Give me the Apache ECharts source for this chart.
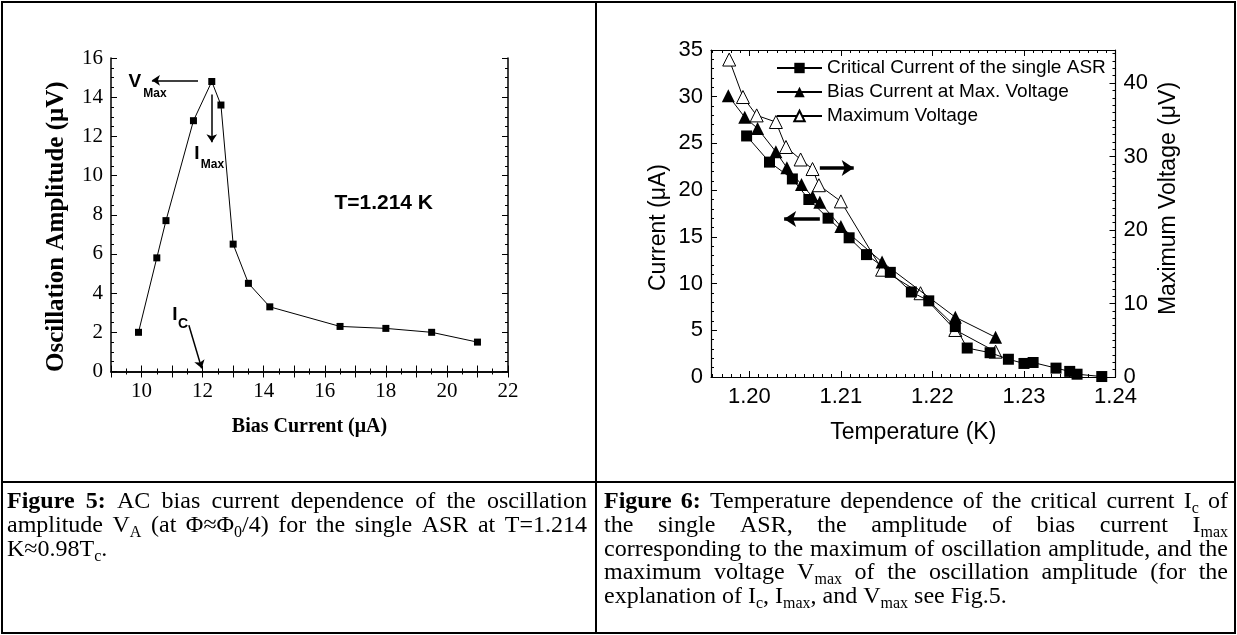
<!DOCTYPE html>
<html><head><meta charset="utf-8">
<script src="https://cdn.jsdelivr.net/npm/echarts@6/dist/echarts.min.js"></script>
<style>html,body{margin:0;padding:0;background:#fff}#c{width:1237px;height:635px}</style>
</head><body><div id="c"></div>
<script>
// ---------- Figure 5 data ----------
const fig5Bias = [9.9, 10.5, 10.8, 11.7, 12.3, 12.6, 13.0, 13.5, 14.2, 16.5, 18.0, 19.5, 21.0];
const fig5Amp  = [2.0, 5.8, 7.7, 12.8, 14.8, 13.6, 6.5, 4.5, 3.3, 2.3, 2.2, 2.0, 1.5];
// ---------- Figure 6 data ----------
const icTemp    = [1.1997, 1.2022, 1.2047, 1.2065, 1.2086, 1.2109, 1.2128, 1.2154, 1.2177, 1.2196, 1.2225, 1.2238, 1.2263, 1.2283, 1.2300, 1.2310, 1.2335, 1.2350, 1.2358, 1.2385];
const icCurrent = [25.8, 23.0, 21.2, 19.0, 17.0, 14.9, 13.1, 11.2, 9.1, 8.15, 5.4, 3.1, 2.6, 1.9, 1.45, 1.55, 0.95, 0.6, 0.3, 0.05];
const imaxTemp    = [1.1977, 1.1995, 1.2009, 1.2029, 1.2041, 1.2057, 1.2069, 1.2077, 1.2100, 1.2145, 1.2225, 1.2269];
const imaxCurrent = [30.1, 27.8, 26.6, 24.1, 22.4, 20.6, 19.3, 18.7, 16.1, 12.3, 6.4, 4.25];
const vmaxTemp    = [1.1978, 1.1993, 1.2008, 1.2029, 1.2040, 1.2056, 1.2069, 1.2076, 1.2100, 1.2145, 1.2187, 1.2225, 1.2269];
const vmaxVoltage = [43.2, 38.1, 35.6, 34.7, 31.3, 29.6, 28.3, 26.1, 23.9, 14.6, 11.4, 6.4, 3.45];
const seriesNames = ['Critical Current of the single ASR', 'Bias Current at Max. Voltage', 'Maximum Voltage'];
const fig6XLabels = [1.20, 1.21, 1.22, 1.23, 1.24];
// ---------- captions ----------
const cap5 = [
  '*Figure *5: AC bias current dependence of the oscillation',
  'amplitude V_{A} (at Φ≈Φ_{0}/4) for the single ASR at T=1.214',
  'K≈0.98T_{c}.'
];
const cap6 = [
  '*Figure *6: Temperature dependence of the critical current I_{c} of',
  'the single ASR, the amplitude of bias current I_{max}',
  'corresponding to the maximum of oscillation amplitude, and the',
  'maximum voltage V_{max} of the oscillation amplitude (for the',
  'explanation of I_{c}, I_{max}, and V_{max} see Fig.5.'
];

const zip = (a, b) => a.map((v, i) => [v, b[i]]);
const fig6Minor = [];
for (let k = 1196; k <= 1240; k++) fig6Minor.push(k / 1000);

const SERIF = '"Liberation Serif", "Times New Roman", serif';
const SANS = '"Liberation Sans", Arial, sans-serif';

// ---------- caption layout ----------
const mctx = document.createElement('canvas').getContext('2d');
const fontStr = (bold, size) => (bold ? 'bold ' : '') + size + 'px ' + SERIF;
function parseWord(w) {
  let bold = false;
  if (w.startsWith('*')) { bold = true; w = w.slice(1); }
  const segs = []; const re = /_\{([^}]*)\}/g; let last = 0, m;
  while ((m = re.exec(w))) {
    if (m.index > last) segs.push({ t: w.slice(last, m.index), sub: false });
    segs.push({ t: m[1], sub: true }); last = re.lastIndex;
  }
  if (last < w.length) segs.push({ t: w.slice(last), sub: false });
  return { bold, segs };
}
function measureLine(str, size) {
  const words = str.split(' ').map(parseWord);
  const subSize = Math.round(size * 0.65);
  words.forEach(w => { w.width = 0; w.segs.forEach(s => { mctx.font = fontStr(w.bold, s.sub ? subSize : size); s.w = mctx.measureText(s.t).width; w.width += s.w; }); });
  return words;
}
function layoutLine(str, x0, x1, y, size, justify, out) {
  const words = measureLine(str, size);
  const subSize = Math.round(size * 0.65);
  mctx.font = fontStr(false, size); const sp = mctx.measureText(' ').width;
  const total = words.reduce((a, w) => a + w.width, 0);
  const gap = justify && words.length > 1 ? (x1 - x0 - total) / (words.length - 1) : sp;
  let x = x0;
  words.forEach(w => {
    w.segs.forEach(s => {
      out.push({ type: 'text', silent: true, x: x, y: s.sub ? y + size * 0.3 : y,
        style: { text: s.t, font: fontStr(w.bold, s.sub ? subSize : size), fill: '#000', align: 'left', verticalAlign: 'middle' } });
      x += s.w;
    });
    x += gap;
  });
}
const refW = measureLine(cap6[2], 100).reduce((a, w) => a + w.width, 0) + 8 * (() => { mctx.font = fontStr(false, 100); return mctx.measureText(' ').width; })();
const capSize = Math.min(24, 100 * 620 / refW);

const graphics = [
  { type: 'rect', silent: true, shape: { x: 2, y: 2, width: 1233, height: 631 }, style: { fill: 'none', stroke: '#000', lineWidth: 2 } },
  { type: 'line', silent: true, shape: { x1: 596, y1: 2, x2: 596, y2: 633 }, style: { stroke: '#000', lineWidth: 2 } },
  { type: 'line', silent: true, shape: { x1: 2, y1: 482, x2: 1235, y2: 482 }, style: { stroke: '#000', lineWidth: 2 } }
];
const lineY = [502, 526, 549.5, 573, 596.5];
cap5.forEach((l, i) => layoutLine(l, 7, 587, lineY[i], capSize, i < cap5.length - 1, graphics));
cap6.forEach((l, i) => layoutLine(l, 604, 1228, lineY[i], capSize, i < cap6.length - 1, graphics));

// ---------- axis helpers ----------
const black = '#000';
function mirrorX(grid, min, max, interval, split, pos) {
  return { type: 'value', gridIndex: grid, position: pos, min, max, interval,
    axisLine: { show: true, lineStyle: { color: black, width: 1.5 } },
    axisTick: { show: true, inside: true, length: 6, lineStyle: { color: black } },
    minorTick: { show: true, splitNumber: split, length: 3, lineStyle: { color: black } },
    axisLabel: { show: false }, splitLine: { show: false } };
}
const ann = (x, y, text, size, font) => ({ coord: [x, y], symbol: 'rect', symbolSize: 1, itemStyle: { color: 'rgba(0,0,0,0)' },
  label: { show: true, position: 'inside', formatter: text, color: black, fontSize: size, fontWeight: 'bold', fontFamily: font || SANS } });

const option = {
  animation: false,
  backgroundColor: '#fff',
  graphic: graphics,
  grid: [
    { left: 111, top: 58, width: 397, height: 313.5 },
    { left: 711, top: 50, width: 404.5, height: 327 }
  ],
  legend: {
    left: 776, top: 58, orient: 'vertical', itemWidth: 45, itemHeight: 13, itemGap: 4, padding: 0,
    data: seriesNames, selectedMode: false,
    textStyle: { fontFamily: SANS, fontSize: 19, color: black, lineHeight: 20, padding: [0, 0, 0, 0] }
  },
  xAxis: [
    { type: 'value', gridIndex: 0, position: 'bottom', min: 9, max: 22, interval: 1,
      name: 'Bias Current (μA)', nameLocation: 'middle', nameGap: 45,
      nameTextStyle: { fontFamily: SERIF, fontWeight: 'bold', fontSize: 20, color: black },
      axisLine: { lineStyle: { color: black, width: 1.5 } },
      axisTick: { inside: true, length: 6, lineStyle: { color: black } },
      minorTick: { show: true, splitNumber: 2, length: 3, lineStyle: { color: black } },
      axisLabel: { color: black, fontFamily: SERIF, fontSize: 21, margin: 9, formatter: v => (Math.round(v) % 2 === 0 ? String(v) : '') },
      splitLine: { show: false } },
    mirrorX(0, 9, 22, 1, 2, 'top'),
    { type: 'value', gridIndex: 1, position: 'bottom', min: 1.19581, max: 1.24,
      name: 'Temperature (K)', nameLocation: 'middle', nameGap: 44,
      nameTextStyle: { fontFamily: SANS, fontSize: 23, color: black },
      axisLine: { lineStyle: { color: black, width: 1.2 } },
      axisTick: { inside: true, length: 6, customValues: fig6XLabels, lineStyle: { color: black } },
      axisLabel: { color: black, fontFamily: SANS, fontSize: 22, margin: 9, customValues: fig6XLabels, formatter: v => v.toFixed(2) },
      splitLine: { show: false } },
    { type: 'value', gridIndex: 1, position: 'bottom', min: 1.19581, max: 1.24,
      axisLine: { show: false }, axisTick: { inside: true, length: 3, customValues: fig6Minor, lineStyle: { color: black } },
      axisLabel: { show: false }, splitLine: { show: false } },
    { type: 'value', gridIndex: 1, position: 'top', min: 1.19581, max: 1.24,
      axisLine: { show: true, lineStyle: { color: black, width: 1.2 } }, axisTick: { inside: true, length: 6, customValues: fig6XLabels, lineStyle: { color: black } },
      axisLabel: { show: false }, splitLine: { show: false } },
    { type: 'value', gridIndex: 1, position: 'top', min: 1.19581, max: 1.24,
      axisLine: { show: false }, axisTick: { inside: true, length: 3, customValues: fig6Minor, lineStyle: { color: black } },
      axisLabel: { show: false }, splitLine: { show: false } }
  ],
  yAxis: [
    { type: 'value', gridIndex: 0, position: 'left', min: 0, max: 16, interval: 2,
      name: 'Oscillation Amplitude (μV)', nameLocation: 'middle', nameGap: 42,
      nameTextStyle: { fontFamily: SERIF, fontWeight: 'bold', fontSize: 25, color: black, padding: [0, 24, 0, 0] },
      axisLine: { show: true, lineStyle: { color: black, width: 1.5 } },
      axisTick: { show: true, inside: true, length: 6, lineStyle: { color: black } },
      minorTick: { show: true, splitNumber: 4, length: 3, lineStyle: { color: black } },
      axisLabel: { color: black, fontFamily: SERIF, fontSize: 21, margin: 8 },
      splitLine: { show: false } },
    mirrorX(0, 0, 16, 2, 4, 'right'),
    { type: 'value', gridIndex: 1, position: 'left', min: 0, max: 35, interval: 5,
      name: 'Current (μA)', nameLocation: 'middle', nameGap: 41,
      nameTextStyle: { fontFamily: SANS, fontSize: 23, color: black, padding: [0, 28, 0, 0] },
      axisLine: { show: true, lineStyle: { color: black, width: 1.2 } },
      axisTick: { show: true, inside: true, length: 6, lineStyle: { color: black } },
      minorTick: { show: true, splitNumber: 5, length: 3, lineStyle: { color: black } },
      axisLabel: { color: black, fontFamily: SANS, fontSize: 22, margin: 8 },
      splitLine: { show: false } },
    { type: 'value', gridIndex: 1, position: 'right', min: 0, max: 44.5, interval: 10,
      name: 'Maximum Voltage (μV)', nameLocation: 'middle', nameGap: 42,
      nameTextStyle: { fontFamily: SANS, fontSize: 23, color: black, padding: [0, 0, 0, 30] },
      axisLine: { show: true, lineStyle: { color: black, width: 1.2 } },
      axisTick: { show: true, inside: true, length: 6, lineStyle: { color: black } },
      minorTick: { show: true, splitNumber: 10, length: 3, lineStyle: { color: black } },
      axisLabel: { color: black, fontFamily: SANS, fontSize: 22, margin: 8, showMaxLabel: false },
      splitLine: { show: false } }
  ],
  series: [
    { type: 'line', xAxisIndex: 0, yAxisIndex: 0, data: zip(fig5Bias, fig5Amp),
      symbol: 'rect', symbolSize: 7, itemStyle: { color: black }, lineStyle: { color: black, width: 1 },
      markLine: { silent: true, symbol: ['none', 'arrow'], symbolSize: 8, label: { show: false },
        lineStyle: { color: black, width: 1.5, type: 'solid' },
        data: [
          [{ coord: [11.85, 14.86] }, { coord: [10.34, 14.86] }],
          [{ coord: [12.3, 14.14] }, { coord: [12.3, 11.7] }],
          [{ coord: [11.55, 2.36] }, { coord: [11.97, 0.16] }]
        ] },
      markPoint: { silent: true, data: [
        ann(9.78, 14.77, 'V', 19), ann(10.44, 14.2, 'Max', 12),
        ann(11.81, 11.12, 'I', 19), ann(12.32, 10.54, 'Max', 12),
        ann(11.09, 2.92, 'I', 19), ann(11.36, 2.41, 'C', 14),
        ann(17.93, 8.58, 'T=1.214 K', 21)
      ] } },
    { name: seriesNames[0], type: 'line', xAxisIndex: 2, yAxisIndex: 2, data: zip(icTemp, icCurrent), z: 4,
      symbol: 'rect', symbolSize: 11, itemStyle: { color: black }, lineStyle: { color: black, width: 1 },
      markLine: { silent: true, symbol: ['none', 'arrow'], symbolSize: 12, label: { show: false },
        lineStyle: { color: black, width: 3.5, type: 'solid' },
        data: [
          [{ coord: [1.2077, 22.37] }, { coord: [1.2114, 22.37] }],
          [{ coord: [1.2077, 16.9] }, { coord: [1.2038, 16.9] }]
        ] } },
    { name: seriesNames[1], type: 'line', xAxisIndex: 2, yAxisIndex: 2, data: zip(imaxTemp, imaxCurrent), z: 3,
      symbol: 'triangle', symbolSize: 13, itemStyle: { color: black }, lineStyle: { color: black, width: 1 } },
    { name: seriesNames[2], type: 'line', xAxisIndex: 2, yAxisIndex: 3, data: zip(vmaxTemp, vmaxVoltage), z: 2,
      symbol: 'triangle', symbolSize: 13, itemStyle: { color: '#fff', borderColor: black, borderWidth: 1 }, lineStyle: { color: black, width: 1 } }
  ]
};
const chart = echarts.init(document.getElementById('c'));
chart.setOption(option);
</script>
</body></html>
